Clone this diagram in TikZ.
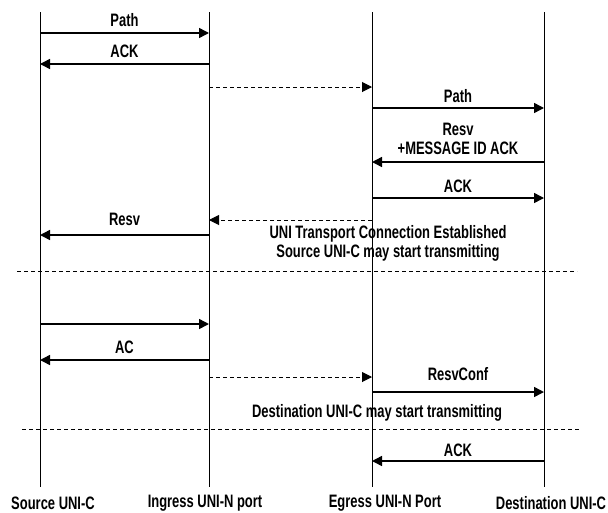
\documentclass[tikz,border=0pt]{standalone}
\usepackage{fontspec}
\setmainfont[FakeStretch=0.72]{Liberation Sans}
\usetikzlibrary{arrows.meta,positioning}
\tikzset{>={Triangle[length=10pt,width=10pt]},
  every node/.style={font=\bfseries\fontsize{18}{19}\selectfont},
  life/.style={draw=black,line width=.8pt},
  msg/.style={->,draw=black,line width=1.5pt},
  relay/.style={->,draw=black,dash pattern=on 4pt off 3pt,line width=1pt},
  sep/.style={draw=black,dash pattern=on 4pt off 3pt,line width=1pt},
  note/.style={align=center,inner sep=0pt}}

\begin{document}
\begin{tikzpicture}[x=1pt,y=-1pt]
\useasboundingbox (0,0) rectangle (608,512);
% lifelines
\foreach \n/\x in {src/40,ing/209,egr/372,dst/544}{
  \coordinate (\n) at (\x,12);
  \coordinate (\n-end) at (\x,487);
  \draw[life] (\n) -- (\n-end);
}
\node (src-lbl) at (53,503) {Source UNI-C};
\node (ing-lbl) at (205,503) {Ingress UNI-N port};
\node (egr-lbl) at (385,503) {Egress UNI-N Port};
\node (dst-lbl) at (551,503) {Destination UNI-C};
% set-up
\draw[msg] (src|-0,33) -- (ing|-0,33) node[midway,above=2pt]{Path};
\draw[msg] (ing|-0,64) -- (src|-0,64) node[midway,above=2pt]{ACK};
\draw[relay] (ing|-0,87) -- (egr|-0,87);
\draw[msg] (egr|-0,108) -- (dst|-0,108) node[midway,above=1pt]{Path};
\draw[msg] (dst|-0,162) -- (egr|-0,162) node[midway,above=3pt,align=center]{Resv\\+MESSAGE ID ACK};
\draw[msg] (egr|-0,198) -- (dst|-0,198) node[midway,above=1pt]{ACK};
\draw[relay] (egr|-0,220) -- (ing|-0,220);
\draw[msg] (ing|-0,235) -- (src|-0,235) node[midway,above=5pt]{Resv};
\node[note] (est) at (388,243) {UNI Transport Connection Established\\Source UNI-C may start transmitting};
\draw[sep] (17,271) -- (577,271);
% confirmation
\draw[msg] (src|-0,324) -- (ing|-0,324);
\draw[msg] (ing|-0,360) -- (src|-0,360) node[midway,above=2pt]{AC};
\draw[relay] (ing|-0,377) -- (egr|-0,377);
\draw[msg] (egr|-0,392) -- (dst|-0,392) node[midway,above=7pt]{ResvConf};
\node[note] (dst-tx) at (377,413) {Destination UNI-C may start transmitting};
\draw[sep] (22,429) -- (580,429);
\draw[msg] (dst|-0,461) -- (egr|-0,461) node[midway,above=0pt]{ACK};
\end{tikzpicture}
\end{document}
